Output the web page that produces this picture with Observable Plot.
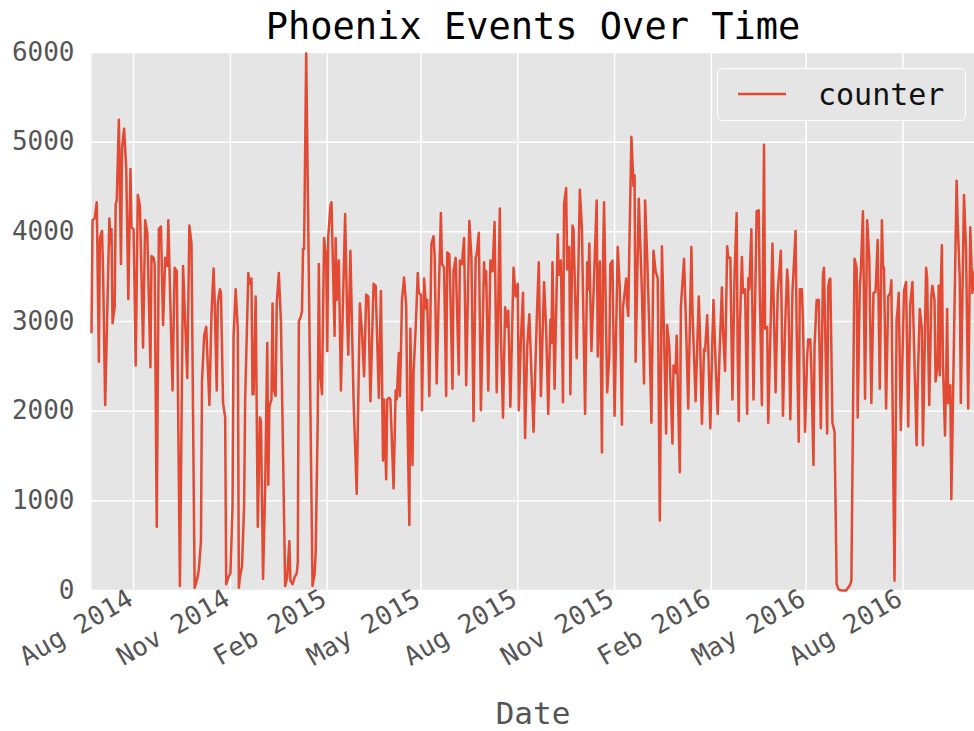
<!DOCTYPE html>
<html>
<head>
<meta charset="utf-8">
<script src="https://cdn.jsdelivr.net/npm/d3@7"></script>
<script src="https://cdn.jsdelivr.net/npm/@observablehq/plot@0.6"></script>
<style>
  body { margin: 0; background: #fff; }
  #wrap { position: relative; width: 974px; height: 731px; font-family: "DejaVu Sans Mono", monospace; }
  #legend { position: absolute; left: 717px; top: 68px; width: 249px; height: 53px; box-sizing: border-box;
            border: 1.5px solid #fff; border-radius: 5px; background: #E5E5E5; }
  #legend svg { position: absolute; left: 0; top: 0; }
  #legend span { position: absolute; left: 100px; top: 8px; font-size: 30px; color: #111; white-space: pre; }
</style>
</head>
<body>
<div id="wrap"></div>
<script>
const title = "Phoenix Events Over Time";
const seriesName = "counter";
const xLabel = "Date";

const dates = [
"2014-06-22","2014-06-23","2014-06-25","2014-06-27","2014-06-29","2014-06-30","2014-07-02","2014-07-03","2014-07-05","2014-07-09",
"2014-07-10","2014-07-11","2014-07-12","2014-07-14","2014-07-15","2014-07-16","2014-07-18","2014-07-20","2014-07-21","2014-07-23",
"2014-07-25","2014-07-27","2014-07-29","2014-07-30","2014-08-01","2014-08-03","2014-08-05","2014-08-07","2014-08-10","2014-08-12",
"2014-08-14","2014-08-17","2014-08-18","2014-08-20","2014-08-21","2014-08-23","2014-08-25","2014-08-27","2014-08-29","2014-08-31",
"2014-09-02","2014-09-03","2014-09-04","2014-09-07","2014-09-09","2014-09-11","2014-09-14","2014-09-17","2014-09-21","2014-09-23",
"2014-09-25","2014-09-28","2014-09-30","2014-10-02","2014-10-04","2014-10-05","2014-10-07","2014-10-09","2014-10-12","2014-10-14",
"2014-10-16","2014-10-17","2014-10-19","2014-10-20","2014-10-22","2014-10-23","2014-10-25","2014-10-27","2014-10-28","2014-10-30",
"2014-11-01","2014-11-03","2014-11-04","2014-11-06","2014-11-08","2014-11-09","2014-11-10","2014-11-12","2014-11-14","2014-11-15",
"2014-11-18","2014-11-19","2014-11-21","2014-11-22","2014-11-23","2014-11-25","2014-11-27","2014-11-29","2014-11-30","2014-12-02",
"2014-12-04","2014-12-06","2014-12-07","2014-12-08","2014-12-10","2014-12-11","2014-12-12","2014-12-14","2014-12-15","2014-12-17",
"2014-12-19","2014-12-23","2014-12-25","2014-12-27","2014-12-28","2014-12-30","2015-01-01","2015-01-03","2015-01-04","2015-01-05",
"2015-01-07","2015-01-08","2015-01-09","2015-01-10","2015-01-12","2015-01-18","2015-01-20","2015-01-21","2015-01-23","2015-01-24",
"2015-01-25","2015-01-27","2015-01-29","2015-01-31","2015-02-01","2015-02-02","2015-02-04","2015-02-05","2015-02-08","2015-02-09",
"2015-02-10","2015-02-12","2015-02-14","2015-02-16","2015-02-18","2015-02-20","2015-02-21","2015-02-23","2015-02-26","2015-03-01",
"2015-03-04","2015-03-06","2015-03-08","2015-03-10","2015-03-12","2015-03-14","2015-03-17","2015-03-19","2015-03-22","2015-03-24",
"2015-03-26","2015-03-27","2015-03-29","2015-03-30","2015-04-01","2015-04-02","2015-04-05","2015-04-07","2015-04-08","2015-04-10",
"2015-04-11","2015-04-12","2015-04-13","2015-04-15","2015-04-17","2015-04-18","2015-04-20","2015-04-21","2015-04-23","2015-04-24",
"2015-04-26","2015-04-28","2015-04-29","2015-05-01","2015-05-02","2015-05-04","2015-05-06","2015-05-07","2015-05-09","2015-05-11",
"2015-05-13","2015-05-14","2015-05-16","2015-05-18","2015-05-20","2015-05-21","2015-05-23","2015-05-25","2015-05-26","2015-05-28",
"2015-05-29","2015-05-31","2015-06-01","2015-06-03","2015-06-06","2015-06-07","2015-06-09","2015-06-11","2015-06-13","2015-06-16",
"2015-06-18","2015-06-20","2015-06-22","2015-06-23","2015-06-25","2015-06-27","2015-06-30","2015-07-01","2015-07-02","2015-07-04",
"2015-07-06","2015-07-08","2015-07-10","2015-07-12","2015-07-15","2015-07-16","2015-07-18","2015-07-20","2015-07-22","2015-07-23",
"2015-07-25","2015-07-28","2015-07-30","2015-08-01","2015-08-02","2015-08-04","2015-08-06","2015-08-08","2015-08-10","2015-08-12",
"2015-08-16","2015-08-19","2015-08-21","2015-08-23","2015-08-26","2015-08-28","2015-08-30","2015-09-01","2015-09-02","2015-09-03",
"2015-09-05","2015-09-08","2015-09-09","2015-09-11","2015-09-13","2015-09-14","2015-09-16","2015-09-17","2015-09-19","2015-09-20",
"2015-09-22","2015-09-23","2015-09-26","2015-09-29","2015-10-01","2015-10-02","2015-10-04","2015-10-06","2015-10-07","2015-10-08",
"2015-10-10","2015-10-12","2015-10-15","2015-10-16","2015-10-18","2015-10-20","2015-10-21","2015-10-22","2015-10-25","2015-10-27",
"2015-10-28","2015-10-30","2015-11-01","2015-11-04","2015-11-06","2015-11-08","2015-11-09","2015-11-11","2015-11-12","2015-11-13",
"2015-11-14","2015-11-15","2015-11-17","2015-11-19","2015-11-20","2015-11-21","2015-11-24","2015-11-27","2015-11-29","2015-11-30",
"2015-12-02","2015-12-04","2015-12-06","2015-12-08","2015-12-10","2015-12-12","2015-12-14","2015-12-16","2015-12-18","2015-12-20",
"2015-12-21","2015-12-23","2015-12-26","2015-12-27","2015-12-29","2015-12-30","2016-01-02","2016-01-03","2016-01-06","2016-01-08",
"2016-01-10","2016-01-13","2016-01-14","2016-01-17","2016-01-20","2016-01-21","2016-01-23","2016-01-25","2016-01-26","2016-01-28",
"2016-01-29","2016-01-31","2016-02-02","2016-02-03","2016-02-05","2016-02-07","2016-02-09","2016-02-11","2016-02-12","2016-02-14",
"2016-02-16","2016-02-17","2016-02-19","2016-02-21","2016-02-23","2016-02-25","2016-02-26","2016-02-27","2016-02-28","2016-03-01",
"2016-03-02","2016-03-04","2016-03-06","2016-03-07","2016-03-08","2016-03-10","2016-03-12","2016-03-15","2016-03-17","2016-03-18",
"2016-03-20","2016-03-22","2016-03-23","2016-03-25","2016-03-26","2016-03-29","2016-03-30","2016-04-02","2016-04-04","2016-04-05",
"2016-04-07","2016-04-09","2016-04-11","2016-04-13","2016-04-14","2016-04-16","2016-04-18","2016-04-21","2016-04-22","2016-04-24",
"2016-04-25","2016-04-27","2016-04-28","2016-04-30","2016-05-02","2016-05-03","2016-05-05","2016-05-06","2016-05-08","2016-05-09",
"2016-05-11","2016-05-13","2016-05-15","2016-05-17","2016-05-18","2016-05-21","2016-05-22","2016-05-23","2016-05-24","2016-05-26",
"2016-05-28","2016-05-29","2016-05-30","2016-06-01","2016-06-04","2016-06-08","2016-06-11","2016-06-12","2016-06-13","2016-06-16",
"2016-06-18","2016-06-19","2016-06-21","2016-06-22","2016-06-24","2016-06-26","2016-06-28","2016-06-30","2016-07-02","2016-07-04",
"2016-07-06","2016-07-08","2016-07-10","2016-07-12","2016-07-13","2016-07-14","2016-07-16","2016-07-18","2016-07-20","2016-07-21",
"2016-07-23","2016-07-24","2016-07-26","2016-07-27","2016-07-28","2016-07-30","2016-08-02","2016-08-04","2016-08-06","2016-08-08",
"2016-08-10","2016-08-12","2016-08-14","2016-08-15","2016-08-17","2016-08-19","2016-08-20","2016-08-22","2016-08-23","2016-08-24",
"2016-08-26","2016-08-28","2016-08-29","2016-08-31","2016-09-01","2016-09-03","2016-09-04","2016-09-05","2016-09-06","2016-09-07",
"2016-09-08","2016-09-10","2016-09-11","2016-09-12","2016-09-13","2016-09-15","2016-09-16","2016-09-21","2016-09-22","2016-09-24",
"2016-09-25","2016-09-28","2016-09-30","2016-10-02","2016-10-04","2016-10-06","2016-10-08"
];

const counts = [
2880,4130,4150,4330,2550,3930,4010,3560,2070,4150,
3870,4030,2980,3160,4310,4350,5250,3640,4940,5150,
4700,3250,4700,4050,4030,2510,4410,4290,2710,4130,
3990,2490,3730,3710,3640,710,4030,4060,2960,3710,
3620,4130,3640,2230,3600,3560,50,3620,2370,4070,
3870,30,110,230,550,2330,2840,2940,2070,3080,
3590,3240,2230,3200,3360,3320,2090,1930,70,150,
190,940,2840,3360,2920,30,150,270,940,2130,
3540,3420,3480,2190,2190,3280,710,1930,1890,130,
1140,2760,1180,2050,2130,3200,2250,2170,3200,3540,
3000,50,150,550,110,70,150,190,310,3000,
3060,3120,3810,3810,5990,50,190,430,1930,3640,
2470,2190,3930,3710,2670,3950,4290,4330,2840,3930,
3240,3680,2230,3240,4200,3000,2630,3790,2130,1080,
3200,2880,2390,3300,3280,2110,3420,3400,2150,3340,
1450,2130,1240,2130,2150,2130,1140,2230,2130,2650,
2170,2650,3240,3490,3180,2090,730,2920,1400,2430,
2920,3540,3320,3300,2010,3480,3140,3240,2170,3870,
3950,3750,2310,3320,4210,3640,3600,2170,3770,3750,
3320,2250,3560,3710,2410,3680,3640,3930,2290,4120,
3710,1890,3710,3750,3990,2010,3660,3420,3560,2230,
3680,3560,4110,2210,4260,2840,1930,3160,2940,3120,
2050,3600,3280,3420,2010,2800,3320,1700,2720,3080,
1770,3000,3660,2170,3440,2920,1970,3020,2760,3660,
2250,3970,3520,3680,2100,4310,4490,3580,3830,2190,
4070,4030,2590,4470,4030,3320,1970,3660,3360,3870,
2670,3320,4350,2610,3670,1540,3640,4330,2210,2610,
3640,3680,1950,3830,3360,1850,3160,3360,3480,3180,
3060,3790,5060,4510,4630,2550,4370,3320,2310,4350,
3710,2920,1870,3790,3560,3480,780,3840,2840,1750,
2960,2720,1640,2510,2430,2840,1320,3160,3700,2920,
2030,3830,3120,2110,3280,2920,1860,2690,2670,3070,
2720,1810,2840,3240,2530,1970,2720,3380,2920,2450,
3840,3710,3710,2130,3520,4210,2610,1890,2920,3720,
3320,3360,1970,3480,3360,4030,2130,4230,4240,3320,
2070,4970,2920,2940,1870,3320,3870,2210,3320,3480,
3790,1950,2920,3580,3400,1910,3320,4010,2920,1660,
3360,3360,3000,1770,2610,2800,2800,2450,1400,2720,
3240,3240,1810,3520,3600,1750,3380,3460,3480,1870,
1770,940,70,10,0,0,50,70,110,3700,
3600,1930,3380,3560,4230,2140,4130,3710,2090,3320,
3330,3910,2250,4130,3620,3600,2030,3280,3320,3460,
1140,110,3020,3140,3320,1790,3340,3440,1830,3200,
3440,2530,1620,2290,3140,2920,1620,2920,3600,3480,
2070,3280,3400,3240,2330,2530,3400,2400,3400,3850,
2530,1730,2330,3140,2090,2290,1020,4570,4110,3480,
2090,4410,3790,2030,4050,3320,3560
];

const yTicks = [0, 1000, 2000, 3000, 4000, 5000, 6000];
const xTickDates = ["2014-08-01","2014-11-01","2015-02-01","2015-05-01","2015-08-01","2015-11-01","2016-02-01","2016-05-01","2016-08-01"];

const data = dates.map((d, i) => ({date: new Date(d), count: counts[i]}));
const xTicks = xTickDates.map(d => new Date(d));

const chart = Plot.plot({
  width: 974,
  height: 731,
  marginTop: 52,
  marginBottom: 141,
  marginLeft: 91,
  marginRight: 0,
  style: {fontFamily: '"DejaVu Sans Mono", monospace', fontSize: "26px", color: "#555", background: "white", overflow: "visible"},
  x: {type: "utc", domain: [new Date(dates[0]), new Date(dates[dates.length - 1])]},
  y: {domain: [0, 6000]},
  marks: [
    Plot.frame({fill: "#E5E5E5", stroke: null}),
    Plot.gridY(yTicks, {stroke: "white", strokeOpacity: 1, strokeWidth: 1.5}),
    Plot.gridX(xTicks, {stroke: "white", strokeOpacity: 1, strokeWidth: 1.5}),
    Plot.axisY(yTicks, {tickSize: 0, tickPadding: 17, tickFormat: d => String(d), label: null, fontSize: 26, fill: "#555"}),
    Plot.axisX(xTicks, {tickSize: 0, tickPadding: 0, dy: 6, dx: -3, tickRotate: -30, tickFormat: d3.utcFormat("%b %Y"), label: null, fontSize: 26, fill: "#555"}),
    Plot.line(data, {x: "date", y: "count", stroke: "#E24A33", strokeWidth: 2.5, strokeLinejoin: "round"}),
    Plot.text([title], {frameAnchor: "top", lineAnchor: "middle", dy: -25, fontSize: 37, fill: "black"}),
    Plot.text([xLabel], {frameAnchor: "bottom", lineAnchor: "middle", dy: 124, fontSize: 31, fill: "#555"})
  ]
});

const wrap = document.getElementById("wrap");
wrap.appendChild(chart);

const legend = document.createElement("div");
legend.id = "legend";
legend.innerHTML = `<svg width="249" height="53"><line x1="20" x2="68" y1="25" y2="25" stroke="#E24A33" stroke-width="2.5"/></svg><span>${seriesName}</span>`;
wrap.appendChild(legend);
</script>
</body>
</html>
